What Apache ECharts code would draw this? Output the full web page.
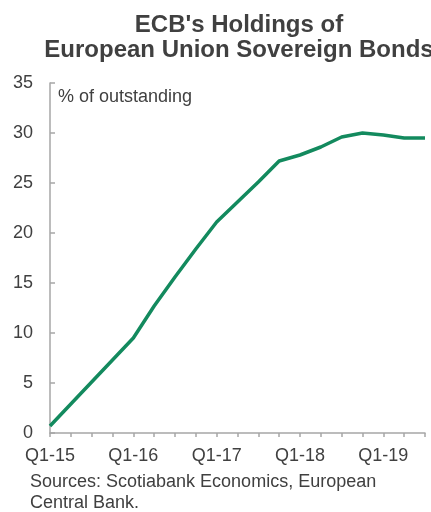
<!DOCTYPE html>
<html>
<head>
<meta charset="utf-8">
<script src="https://cdn.jsdelivr.net/npm/echarts@6/dist/echarts.min.js"></script>
<style>
html,body{margin:0;padding:0;background:#fff;}
#c{width:431px;height:512px;}
</style>
</head>
<body>
<div id="c"></div>
<script>
var categories = ['Q1-15','Q2-15','Q3-15','Q4-15','Q1-16','Q2-16','Q3-16','Q4-16','Q1-17','Q2-17','Q3-17','Q4-17','Q1-18','Q2-18','Q3-18','Q4-18','Q1-19','Q2-19','Q3-19'];
var holdings = [0.7, 2.9, 5.1, 7.3, 9.5, 12.7, 15.6, 18.4, 21.1, 23.1, 25.1, 27.2, 27.8, 28.6, 29.6, 30.0, 29.8, 29.5, 29.5];
var yTicks = [0, 5, 10, 15, 20, 25, 30, 35];

var chart = echarts.init(document.getElementById('c'), null, {renderer: 'canvas'});
var font = 'Liberation Sans, Arial, sans-serif';
chart.setOption({
  animation: false,
  title: {
    text: "ECB's Holdings of\nEuropean Union Sovereign Bonds",
    left: 234, top: 8, textAlign: 'center',
    textStyle: {fontFamily: font, fontSize: 24, fontWeight: 'bold', color: '#404040', lineHeight: 25}
  },
  graphic: [
    {type: 'text', left: 58, top: 88, style: {text: '% of outstanding', font: '18px ' + font, fill: '#404040'}},
    {type: 'text', left: 30, top: 472, style: {text: 'Sources: Scotiabank Economics, European\nCentral Bank.', font: '18px ' + font, fill: '#404040', lineHeight: 21}}
  ],
  grid: {left: 50, right: 6, top: 83, bottom: 79, containLabel: false},
  xAxis: {
    type: 'category', data: categories, boundaryGap: false,
    axisLine: {lineStyle: {color: '#a6a6a6', width: 1.5}},
    axisTick: {show: true, length: 4, interval: 0, lineStyle: {color: '#a6a6a6', width: 1.5}},
    axisLabel: {interval: 3, color: '#404040', fontSize: 18, fontFamily: font, margin: 14,
      formatter: function (v, i) { return i % 4 === 0 ? v : ''; }},
    splitLine: {show: false}
  },
  yAxis: {
    type: 'value', min: yTicks[0], max: yTicks[yTicks.length - 1], interval: 5,
    axisLine: {show: true, lineStyle: {color: '#a6a6a6', width: 1.5}},
    axisTick: {show: true, inside: true, length: 5, lineStyle: {color: '#a6a6a6', width: 1.5}},
    axisLabel: {color: '#404040', fontSize: 18, fontFamily: font, margin: 17},
    splitLine: {show: false}
  },
  series: [{
    type: 'line', data: holdings, symbol: 'none',
    lineStyle: {color: '#138A5E', width: 3.5}
  }]
});
</script>
</body>
</html>
